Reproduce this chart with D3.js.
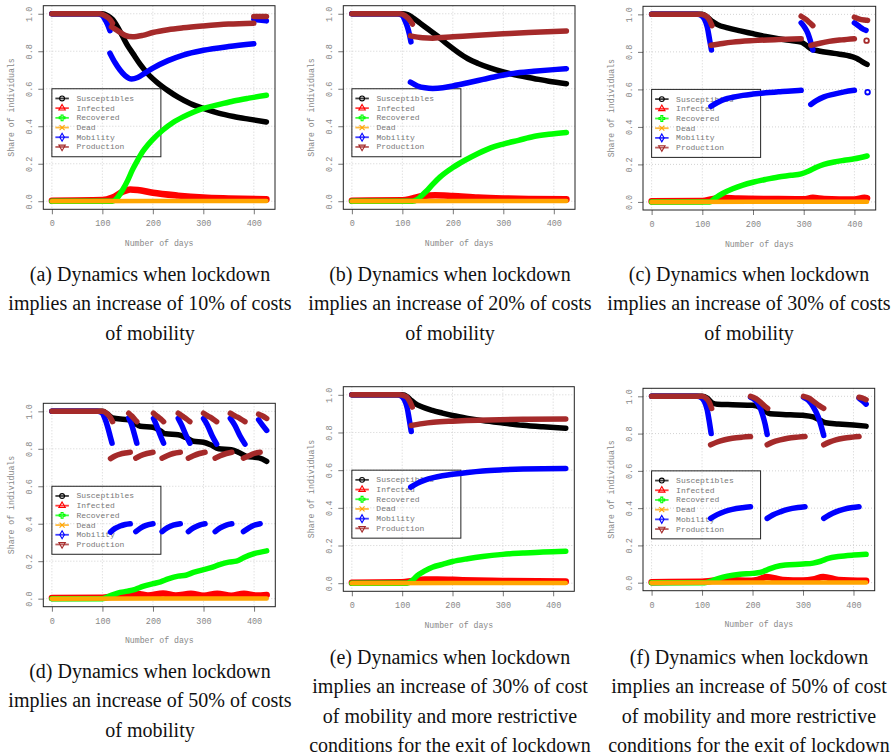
<!DOCTYPE html>
<html><head><meta charset="utf-8">
<script src="https://cdn.jsdelivr.net/npm/d3@7"></script>
<style>body{margin:0;background:#fff}svg{display:block}</style>
</head><body><svg id="c" width="893" height="756"></svg>
<script>
// ---------- DATA ----------
const seriesNames = ["Susceptibles","Infected","Recovered","Dead","Mobility","Production"];
const seriesColors = ["#000000","#ff0000","#00ff00","#ffa500","#0000ff","#a52a2a"];
const xTicks = [0,100,200,300,400];
const yTicks = [0,0.2,0.4,0.6,0.8,1.0];

// (a) 10%
const sus_a = [[0,1],[100,1],[110,0.99],[120,0.97],[130,0.93],[140,0.88],[150,0.83],[160,0.79],[175,0.73],[190,0.68],[210,0.63],[230,0.59],[250,0.555],[275,0.52],[300,0.495],[330,0.47],[360,0.452],[390,0.438],[425,0.423]];
const inf_a = [[0,0.003],[100,0.006],[120,0.02],[140,0.05],[155,0.063],[170,0.06],[200,0.045],[250,0.03],[300,0.02],[350,0.015],[425,0.01]];
const rec_a = [[0,0],[120,0],[130,0.02],[140,0.06],[150,0.11],[160,0.17],[170,0.22],[180,0.265],[190,0.3],[200,0.33],[220,0.38],[240,0.42],[260,0.45],[280,0.475],[300,0.495],[330,0.515],[360,0.535],[390,0.55],[425,0.565]];
const dead_a = [[0,0],[200,0.001],[425,0.001]];
const mob_a = [[[0,1],[90,1],[100,0.99],[105,0.97],[110,0.945],[115,0.91]],
  [[115,0.79],[125,0.74],[135,0.7],[145,0.67],[158,0.652],[170,0.66],[185,0.685],[200,0.71],[230,0.75],[260,0.78],[300,0.805],[350,0.825],[400,0.84]],
  [[400,0.97],[425,0.962]]];
const prod_a = [[[0,1],[95,1],[105,0.99],[115,0.97],[120,0.95]],
  [[118,0.93],[130,0.91],[145,0.885],[160,0.877],[180,0.885],[200,0.9],[230,0.915],[260,0.925],[300,0.935],[350,0.945],[400,0.95]],
  [[400,0.985],[425,0.985]]];

// (b) 20%
const sus_b = [[0,1],[100,1],[110,0.995],[120,0.98],[135,0.95],[150,0.92],[170,0.88],[190,0.835],[210,0.795],[230,0.76],[250,0.735],[275,0.71],[300,0.69],[330,0.67],[360,0.655],[390,0.64],[425,0.627]];
const inf_b = [[0,0.003],[100,0.005],[120,0.015],[140,0.028],[165,0.032],[200,0.028],[250,0.02],[300,0.015],[350,0.012],[425,0.01]];
const rec_b = [[0,0],[120,0],[130,0.01],[140,0.035],[150,0.06],[160,0.09],[175,0.13],[200,0.18],[225,0.22],[250,0.255],[275,0.285],[300,0.305],[330,0.325],[360,0.345],[390,0.357],[425,0.367]];
const dead_b = [[0,0],[200,0.001],[425,0.001]];
const mob_b = [[[0,1],[90,1],[100,0.99],[105,0.965],[110,0.93],[114,0.89],[117,0.85]],
  [[116,0.635],[130,0.615],[145,0.605],[160,0.602],[180,0.605],[200,0.615],[230,0.632],[260,0.65],[290,0.668],[320,0.682],[360,0.693],[400,0.702],[425,0.707]]];
const prod_b = [[[0,1],[95,1],[105,0.99],[115,0.965],[120,0.945]],
  [[116,0.882],[140,0.872],[160,0.87],[200,0.877],[250,0.886],[300,0.893],[350,0.9],[400,0.905],[425,0.908]]];

// (c) 30%
const sus_c = [[0,1],[100,1],[110,0.985],[120,0.962],[130,0.945],[150,0.928],[175,0.912],[200,0.897],[225,0.882],[250,0.87],[275,0.86],[295,0.852],[305,0.835],[315,0.815],[330,0.805],[360,0.792],[395,0.775],[405,0.765],[415,0.748],[425,0.733]];
const inf_c = [[0,0.003],[100,0.005],[120,0.015],[140,0.022],[170,0.018],[250,0.015],[300,0.014],[318,0.022],[340,0.016],[400,0.013],[420,0.022],[425,0.02]];
const rec_c = [[0,0],[115,0],[125,0.02],[140,0.045],[160,0.07],[180,0.09],[200,0.105],[225,0.12],[250,0.133],[275,0.142],[295,0.15],[310,0.165],[325,0.185],[340,0.2],[360,0.213],[380,0.222],[400,0.23],[425,0.245]];
const dead_c = [[0,0],[200,0.001],[425,0.001]];
const mob_c = [[[0,1],[90,1],[100,0.99],[105,0.97],[110,0.93],[114,0.87],[118,0.81]],
  [[117,0.51],[130,0.53],[145,0.548],[160,0.558],[180,0.568],[200,0.575],[225,0.582],[250,0.587],[275,0.592],[295,0.595]],
  [[295,0.955],[302,0.93],[308,0.9],[313,0.86],[318,0.81]],
  [[314,0.52],[325,0.54],[340,0.56],[360,0.575],[380,0.587],[400,0.595]],
  [[400,0.955],[410,0.935],[418,0.92],[423,0.915]],
  [[426,0.585]]];
const prod_c = [[[0,1],[95,1],[105,0.995],[110,0.985],[115,0.965],[119,0.94]],
  [[117,0.835],[140,0.845],[160,0.852],[200,0.86],[250,0.866],[295,0.87]],
  [[295,0.99],[305,0.972],[312,0.955],[318,0.94]],
  [[314,0.835],[330,0.845],[350,0.856],[375,0.864],[400,0.87]],
  [[400,0.985],[410,0.975],[420,0.97],[426,0.968]],
  [[424,0.86]]];

// (d) 50%
const sus_d = [[0,1],[100,1],[110,0.985],[120,0.965],[140,0.958],[155,0.955],[165,0.935],[175,0.92],[200,0.915],[215,0.895],[225,0.88],[250,0.875],[265,0.86],[280,0.84],[300,0.835],[315,0.82],[330,0.8],[355,0.795],[370,0.78],[385,0.76],[410,0.752],[425,0.733]];
const inf_d = [[0,0.003],[100,0.005],[120,0.012],[150,0.02],[170,0.025],[190,0.017],[220,0.027],[245,0.017],[275,0.026],[300,0.016],[327,0.026],[355,0.016],[380,0.026],[405,0.017],[425,0.02]];
const rec_d = [[0,0],[100,0],[115,0.015],[130,0.03],[150,0.04],[165,0.05],[180,0.065],[200,0.08],[215,0.09],[230,0.105],[250,0.12],[265,0.125],[280,0.14],[300,0.155],[315,0.165],[330,0.18],[350,0.195],[365,0.2],[380,0.22],[400,0.24],[425,0.255]];
const dead_d = [[0,0],[200,0.001],[425,0.001]];
const mob_d = [[[0,1],[90,1],[100,0.99],[105,0.96],[110,0.92],[115,0.87],[119,0.83]],
  [[116,0.355],[125,0.375],[135,0.388],[145,0.396],[155,0.4]],
  [[152,0.965],[157,0.935],[162,0.89],[168,0.83]],
  [[166,0.358],[175,0.376],[185,0.39],[200,0.4]],
  [[201,0.962],[207,0.925],[214,0.875],[221,0.83]],
  [[218,0.358],[228,0.378],[240,0.392],[254,0.4]],
  [[250,0.962],[257,0.925],[265,0.875],[273,0.83]],
  [[270,0.358],[280,0.378],[292,0.393],[303,0.4]],
  [[300,0.962],[308,0.925],[317,0.87],[326,0.825]],
  [[323,0.358],[333,0.378],[345,0.393],[356,0.4]],
  [[353,0.962],[362,0.925],[372,0.87],[382,0.825]],
  [[379,0.358],[390,0.378],[400,0.392],[412,0.4]],
  [[409,0.955],[417,0.925],[425,0.898]]];
const prod_d = [[[0,1],[100,1],[108,0.99],[115,0.97],[120,0.945]],
  [[116,0.748],[125,0.762],[135,0.772],[145,0.778],[155,0.782]],
  [[152,0.99],[158,0.975],[163,0.96],[168,0.945]],
  [[166,0.75],[175,0.763],[188,0.775],[200,0.782]],
  [[201,0.99],[208,0.975],[215,0.96],[221,0.945]],
  [[218,0.75],[228,0.763],[240,0.775],[254,0.782]],
  [[250,0.99],[258,0.975],[266,0.96],[273,0.945]],
  [[270,0.75],[280,0.763],[292,0.775],[303,0.782]],
  [[300,0.99],[309,0.975],[318,0.96],[326,0.945]],
  [[323,0.75],[333,0.763],[345,0.775],[356,0.782]],
  [[353,0.99],[363,0.975],[373,0.96],[382,0.945]],
  [[379,0.75],[390,0.763],[400,0.775],[412,0.782]],
  [[409,0.985],[417,0.975],[425,0.962]]];

// (e) 30% + restrictive exit
const sus_e = [[0,1],[100,1],[110,0.99],[118,0.97],[125,0.955],[140,0.935],[160,0.917],[180,0.903],[200,0.89],[230,0.875],[260,0.863],[300,0.85],[340,0.838],[380,0.83],[425,0.823]];
const inf_e = [[0,0.003],[100,0.005],[120,0.012],[145,0.02],[170,0.02],[220,0.016],[300,0.012],[425,0.009]];
const rec_e = [[0,0],[110,0],[120,0.015],[130,0.04],[145,0.065],[160,0.085],[180,0.1],[200,0.115],[230,0.13],[260,0.142],[300,0.153],[340,0.16],[380,0.166],[425,0.17]];
const dead_e = [[0,0],[200,0.001],[425,0.001]];
const mob_e = [[[0,1],[90,1],[100,0.99],[105,0.97],[110,0.93],[114,0.87],[118,0.805]],
  [[117,0.51],[130,0.53],[145,0.547],[162,0.56],[180,0.57],[200,0.578],[230,0.588],[260,0.596],[300,0.602],[340,0.606],[380,0.608],[425,0.609]]];
const prod_e = [[[0,1],[95,1],[108,0.99],[115,0.965],[120,0.935]],
  [[118,0.837],[140,0.847],[162,0.854],[200,0.86],[228,0.863],[294,0.868],[350,0.87],[425,0.872]]];

// (f) 50% + restrictive exit
const sus_f = [[0,1],[100,1],[110,0.99],[120,0.965],[130,0.958],[160,0.955],[200,0.952],[215,0.94],[225,0.92],[235,0.907],[260,0.903],[300,0.898],[320,0.89],[335,0.87],[345,0.858],[370,0.852],[400,0.846],[425,0.84]];
const inf_f = [[0,0.003],[100,0.005],[120,0.01],[145,0.015],[190,0.01],[210,0.015],[228,0.03],[260,0.015],[300,0.012],[320,0.017],[340,0.03],[370,0.015],[425,0.01]];
const rec_f = [[0,0],[105,0],[120,0.01],[135,0.025],[150,0.035],[175,0.045],[200,0.05],[215,0.055],[230,0.07],[245,0.085],[265,0.095],[300,0.1],[320,0.105],[335,0.115],[350,0.13],[370,0.14],[400,0.148],[425,0.152]];
const dead_f = [[0,0],[200,0.001],[425,0.001]];
const mob_f = [[[0,1],[90,1],[100,0.99],[105,0.97],[110,0.93],[114,0.87],[118,0.80]],
  [[117,0.345],[130,0.365],[145,0.382],[160,0.393],[180,0.402],[196,0.407]],
  [[196,0.995],[205,0.98],[213,0.95],[220,0.9],[225,0.85],[229,0.795]],
  [[229,0.345],[240,0.363],[255,0.38],[270,0.393],[290,0.403],[304,0.407]],
  [[301,0.995],[310,0.98],[320,0.945],[330,0.89],[336,0.84],[341,0.79]],
  [[341,0.345],[352,0.363],[365,0.38],[380,0.393],[398,0.403],[411,0.407]],
  [[411,0.99],[418,0.975],[425,0.958]]];
const prod_f = [[[0,1],[100,1],[108,0.99],[114,0.97],[119,0.935]],
  [[117,0.74],[130,0.755],[145,0.767],[160,0.775],[180,0.781],[196,0.784]],
  [[196,1.0],[205,0.99],[215,0.97],[223,0.95],[230,0.935]],
  [[229,0.74],[240,0.754],[255,0.766],[270,0.775],[290,0.781],[304,0.784]],
  [[301,1.0],[312,0.99],[322,0.97],[332,0.95],[341,0.935]],
  [[341,0.74],[352,0.754],[365,0.766],[380,0.775],[398,0.781],[411,0.784]],
  [[411,0.995],[418,0.99],[425,0.982]]];

const caption_a = ["(a) Dynamics when lockdown","implies an increase of 10% of costs","of mobility"];
const caption_b = ["(b) Dynamics when lockdown","implies an increase of 20% of costs","of mobility"];
const caption_c = ["(c) Dynamics when lockdown","implies an increase of 30% of costs","of mobility"];
const caption_d = ["(d) Dynamics when lockdown","implies an increase of 50% of costs","of mobility"];
const caption_e = ["(e) Dynamics when lockdown","implies an increase of 30% of cost","of mobility and more restrictive","conditions for the exit of lockdown"];
const caption_f = ["(f) Dynamics when lockdown","implies an increase of 50% of cost","of mobility and more restrictive","conditions for the exit of lockdown"];

// ---------- LAYOUT ----------
const panels = [
  {box:{l:43.3,r:275,t:5.7,b:209.3}, series:[sus_a,inf_a,rec_a,dead_a], mob:mob_a, prod:prod_a, cap:caption_a, capX:150, capY:274},
  {box:{l:343.3,r:575,t:5.7,b:209.3}, series:[sus_b,inf_b,rec_b,dead_b], mob:mob_b, prod:prod_b, cap:caption_b, capX:450, capY:274},
  {box:{l:643,r:875.7,t:6.3,b:210}, series:[sus_c,inf_c,rec_c,dead_c], mob:mob_c, prod:prod_c, cap:caption_c, capX:749, capY:274},
  {box:{l:43.3,r:275.3,t:403.3,b:606.7}, series:[sus_d,inf_d,rec_d,dead_d], mob:mob_d, prod:prod_d, cap:caption_d, capX:150, capY:671},
  {box:{l:343.3,r:574.3,t:386.7,b:591.3}, series:[sus_e,inf_e,rec_e,dead_e], mob:mob_e, prod:prod_e, cap:caption_e, capX:450, capY:657},
  {box:{l:643,r:874.7,t:388.3,b:590.7}, series:[sus_f,inf_f,rec_f,dead_f], mob:mob_f, prod:prod_f, cap:caption_f, capX:749, capY:657}
];

const svg = d3.select("#c");
const mono = "'Liberation Mono','DejaVu Sans Mono',monospace";
const serif = "'Liberation Serif','DejaVu Serif',serif";
const fmt = d3.format(".1f");
const lineW = [5.5,6.5,5.5,4.5,5.5,5.5];

function symbolFor(i){
  return [d3.symbolCircle,d3.symbolTriangle,d3.symbolCross,d3.symbolTimes,d3.symbolDiamond,d3.symbolTriangle][i];
}

panels.forEach(p => {
  const B = p.box;
  const x = d3.scaleLinear().domain([-17,442]).range([B.l,B.r]);
  const y = d3.scaleLinear().domain([-0.043,1.043]).range([B.b,B.t]);
  const g = svg.append("g");

  // grid
  g.append("g").selectAll("line").data(xTicks).join("line")
    .attr("x1",d=>x(d)).attr("x2",d=>x(d)).attr("y1",B.t).attr("y2",B.b)
    .attr("stroke","#c8c8c8").attr("stroke-width",0.8).attr("stroke-dasharray","1,2");
  g.append("g").selectAll("line").data(yTicks).join("line")
    .attr("x1",B.l).attr("x2",B.r).attr("y1",d=>y(d)).attr("y2",d=>y(d))
    .attr("stroke","#c8c8c8").attr("stroke-width",0.8).attr("stroke-dasharray","1,2");

  // axes
  const xa = g.append("g").attr("transform",`translate(0,${B.b})`)
    .call(d3.axisBottom(x).tickValues(xTicks).tickSize(5).tickPadding(6).tickFormat(d3.format("d")));
  const ya = g.append("g").attr("transform",`translate(${B.l},0)`)
    .call(d3.axisLeft(y).tickValues(yTicks).tickSize(5).tickFormat(fmt));
  [xa,ya].forEach(a=>{
    a.select(".domain").remove();
    a.selectAll(".tick line").attr("stroke","#777");
    a.selectAll(".tick text").attr("fill","#888").style("font-family",mono).style("font-size","8.5px");
  });
  ya.selectAll(".tick text").attr("x",null).attr("dy",null).attr("text-anchor","middle")
    .attr("dominant-baseline","central").attr("transform","translate(-13,0) rotate(-90)");

  // titles
  g.append("text").attr("x",(B.l+B.r)/2).attr("y",B.b+34).attr("text-anchor","middle")
    .attr("dominant-baseline","central").attr("fill","#888").style("font-family",mono).style("font-size","8.2px")
    .text("Number of days");
  g.append("text").attr("transform",`translate(${B.l-32},${(B.t+B.b)/2}) rotate(-90)`)
    .attr("text-anchor","middle").attr("dominant-baseline","central").attr("fill","#888")
    .style("font-family",mono).style("font-size","8.2px").text("Share of individuals");

  // legend (under the lines, no fill)
  const lx = x(0), ly = y(0.6);
  const lg = g.append("g").attr("transform",`translate(${lx},${ly})`);
  lg.append("rect").attr("width",109).attr("height",68).attr("fill","none").attr("stroke","#222").attr("stroke-width",1);
  seriesNames.forEach((n,i)=>{
    const yy = 9.7 + i*9.7;
    lg.append("line").attr("x1",3.5).attr("x2",17).attr("y1",yy).attr("y2",yy)
      .attr("stroke",seriesColors[i]).attr("stroke-width",1.8).attr("opacity",0.75);
    const sym = lg.append("path").attr("d",d3.symbol(symbolFor(i),18)())
      .attr("transform",`translate(10.2,${yy})${i===5?" rotate(180)":""}`)
      .attr("fill","none").attr("stroke",seriesColors[i]).attr("stroke-width",1.1);
    lg.append("text").attr("x",24.5).attr("y",yy).attr("dominant-baseline","central")
      .attr("fill","#777").style("font-family",mono).style("font-size","8px").text(n);
  });

  // series
  const line = d3.line().x(d=>x(d[0])).y(d=>y(d[1])).curve(d3.curveMonotoneX);
  const drawSeg = (seg, i) => {
    if (seg.length === 1) {
      g.append("circle").attr("cx",x(seg[0][0])).attr("cy",y(seg[0][1])).attr("r",2.3)
        .attr("fill","none").attr("stroke",seriesColors[i]).attr("stroke-width",1.8);
    } else {
      g.append("path").attr("d",line(seg)).attr("fill","none").attr("stroke",seriesColors[i])
        .attr("stroke-width",lineW[i]).attr("stroke-linecap","round").attr("stroke-linejoin","round");
    }
  };
  p.series.forEach((s,i)=>drawSeg(s,i));
  p.mob.forEach(seg=>drawSeg(seg,4));
  p.prod.forEach(seg=>drawSeg(seg,5));

  // frame
  g.append("rect").attr("x",B.l).attr("y",B.t).attr("width",B.r-B.l).attr("height",B.b-B.t)
    .attr("fill","none").attr("stroke","#222").attr("stroke-width",1);

  // caption
  p.cap.forEach((t,k)=>{
    svg.append("text").attr("x",p.capX).attr("y",p.capY + k*29.3).attr("text-anchor","middle")
      .attr("dominant-baseline","central").attr("fill","#111")
      .style("font-family",serif).style("font-size","20px").text(t);
  });
});
</script></body></html>
